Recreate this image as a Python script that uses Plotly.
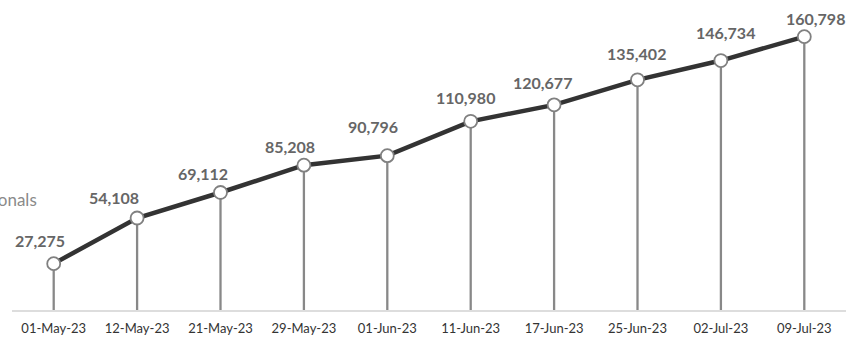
"""Cumulative line with drop lines and value labels."""

import plotly.graph_objects as go

# ── Data ────────────────────────────────────────────────────────────────────

dates = [
    '01-May-23', '12-May-23', '21-May-23', '29-May-23', '01-Jun-23',
    '11-Jun-23', '17-Jun-23', '25-Jun-23', '02-Jul-23', '09-Jul-23',
]
values = [27275, 54108, 69112, 85208, 90796, 110980, 120677, 135402, 146734, 160798]
series_name = 'Professionals'

# label offsets (px) relative to each point: style only
label_dx = [-14, -23, -18, -14, -14, -5, -12, -1, 5, 11]
label_dy = [23, 21, 19, 19, 29, 24, 22, 26, 28, 18]

LINE = '#333333'
STEM = '#888888'
LABEL = '#666666'
FONT = 'Lato'

fig = go.Figure()

fig.add_trace(go.Scatter(
    x=dates, y=values, name=series_name,
    mode='lines+markers',
    line=dict(color=LINE, width=4.5),
    marker=dict(size=13, color='white', line=dict(color='#808080', width=1.8)),
    error_y=dict(
        type='data', symmetric=False,
        array=[0] * len(values), arrayminus=values,
        width=0, thickness=2.3, color=STEM,
    ),
    cliponaxis=False,
    hovertemplate='<b>%{x}</b><br>%{y:,.0f}<extra></extra>',
))

for d, v, dx, dy in zip(dates, values, label_dx, label_dy):
    fig.add_annotation(
        x=d, y=v, text=f'<b>{v:,}</b>', showarrow=False,
        xshift=dx, yshift=dy,
        font=dict(family=FONT, size=16, color=LABEL),
    )

# series name, partly off the left edge as in the source
fig.add_annotation(
    text=series_name, xref='paper', yref='paper',
    x=27 / 834, y=(310 - 200) / 306, xanchor='right', yanchor='middle',
    showarrow=False, font=dict(family=FONT, size=17, color='#8a8a8a'),
)

fig.update_layout(
    width=865, height=338,
    paper_bgcolor='white', plot_bgcolor='white',
    margin=dict(l=12, r=19, t=4, b=28, autoexpand=False),
    showlegend=False,
    font=dict(family=FONT, size=13, color='#333333'),
    xaxis=dict(
        type='category', range=[-0.5, len(dates) - 0.5],
        showgrid=False, zeroline=False, automargin=False,
        showline=True, linecolor='#dddddd', linewidth=2,
        ticks='', ticklabelstandoff=5,
        tickfont=dict(family=FONT, size=13, color='#333333'),
    ),
    yaxis=dict(
        range=[0, 180000], visible=False, showgrid=False, zeroline=False,
        automargin=False,
    ),
)

fig.write_html(
    'out.html',
    config={'displayModeBar': False},
    post_script="document.body.style.margin='0';document.body.style.overflow='hidden';",
)
